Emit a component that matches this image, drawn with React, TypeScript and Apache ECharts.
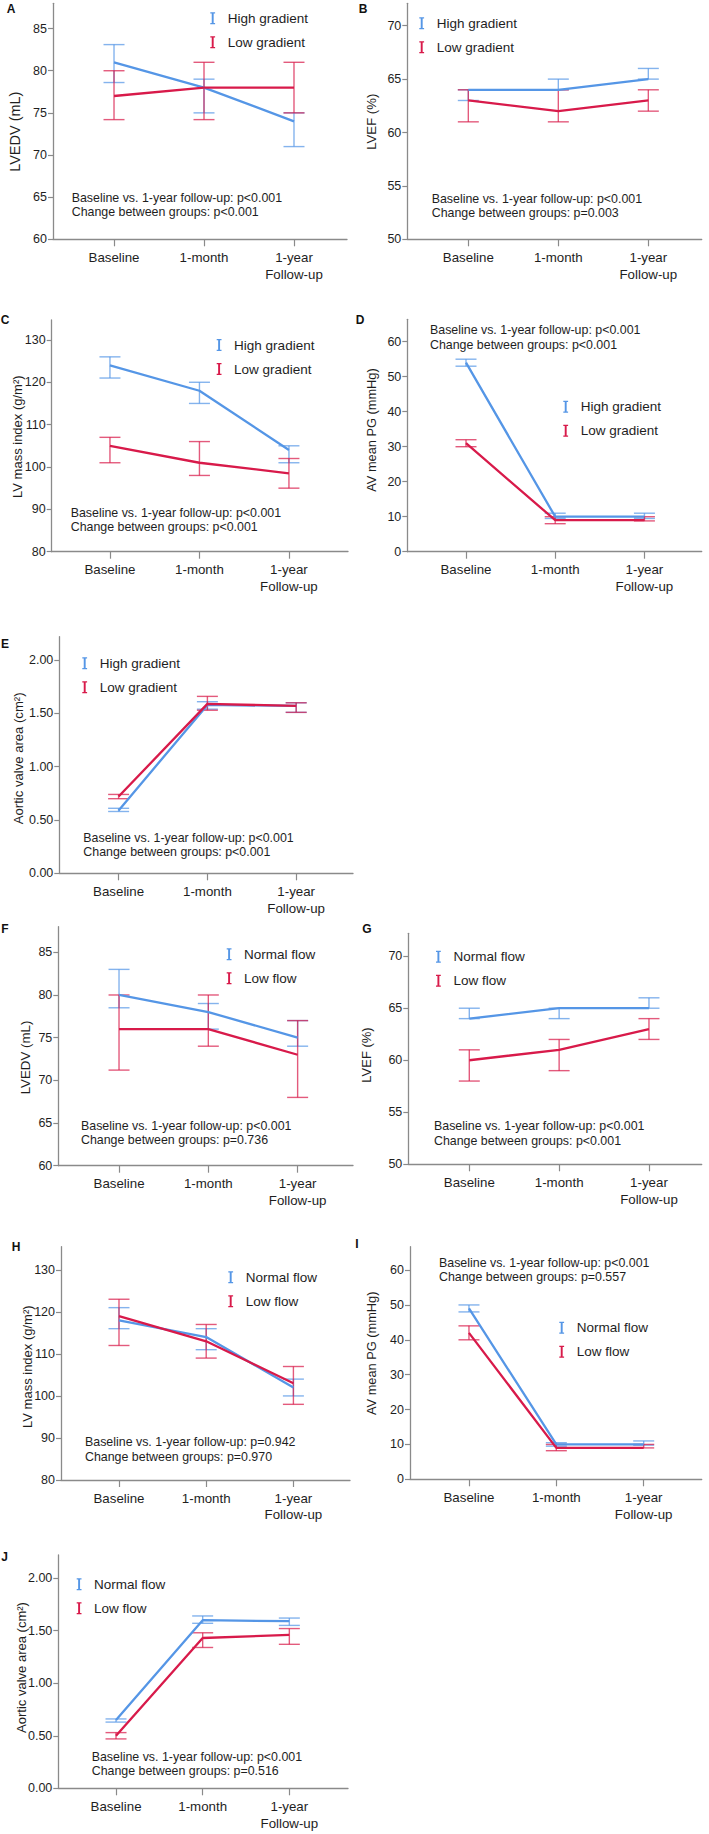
import React, { useEffect, useRef } from "react";
import * as echarts from "echarts";

// ---------- categories & tick labels ----------
const categories = ["Baseline", "1-month", "1-year\nFollow-up"];
const ticksLVEDV = [60, 65, 70, 75, 80, 85];
const ticksLVEF = [50, 55, 60, 65, 70];
const ticksMass = [80, 90, 100, 110, 120, 130];
const ticksPG = [0, 10, 20, 30, 40, 50, 60];
const ticksAVA = [0, 0.5, 1.0, 1.5, 2.0];

// ---------- group names ----------
const gradientNames = ["High gradient", "Low gradient"];
const flowNames = ["Normal flow", "Low flow"];

// ---------- data (mean, lower CI, upper CI) ----------
// A: LVEDV by gradient
const aHighMean = [81, 78, 74];
const aHighLo = [78.6, 75, 71];
const aHighHi = [83.1, 79, 75];
const aLowMean = [77, 78, 78];
const aLowLo = [74.2, 74.2, 75];
const aLowHi = [80, 81, 81];
// B: LVEF by gradient
const bHighMean = [64, 64, 65];
const bHighLo = [63, 64, 65];
const bHighHi = [64, 65, 66];
const bLowMean = [63, 62, 63];
const bLowLo = [61, 61, 62];
const bLowHi = [64, 64, 64];
// C: LV mass index by gradient
const cHighMean = [124, 118, 104];
const cHighLo = [121, 115, 101];
const cHighHi = [126, 120, 105];
const cLowMean = [105, 101, 98.5];
const cLowLo = [101, 98, 95];
const cLowHi = [107, 106, 102];
// D: AV mean PG by gradient
const dHighMean = [54, 10, 10];
const dHighLo = [53, 9.5, 9.5];
const dHighHi = [55, 11, 11];
const dLowMean = [31, 9, 9];
const dLowLo = [30, 8, 8.8];
const dLowHi = [32, 10, 10];
// E: Aortic valve area by gradient
const eHighMean = [0.59, 1.58, 1.57];
const eHighLo = [0.58, 1.54, 1.51];
const eHighHi = [0.61, 1.61, 1.6];
const eLowMean = [0.72, 1.59, 1.57];
const eLowLo = [0.7, 1.53, 1.51];
const eLowHi = [0.74, 1.66, 1.6];
// F: LVEDV by flow
const fNormMean = [80, 78, 75];
const fNormLo = [78.5, 76, 74];
const fNormHi = [83, 79, 77];
const fLowMean = [76, 76, 73];
const fLowLo = [71.2, 74, 68];
const fLowHi = [80, 80, 77];
// G: LVEF by flow
const gNormMean = [64, 65, 65];
const gNormLo = [64, 64, 65];
const gNormHi = [65, 65, 66];
const gLowMean = [60, 61, 63];
const gLowLo = [58, 59, 62];
const gLowHi = [61, 62, 64];
// H: LV mass index by flow
const hNormMean = [118, 114, 102];
const hNormLo = [116, 111, 100];
const hNormHi = [121, 116, 104];
const hLowMean = [119, 113, 103];
const hLowLo = [112, 109, 98];
const hLowHi = [123, 117, 107];
// I: AV mean PG by flow
const iNormMean = [49, 10, 10];
const iNormLo = [48, 9.5, 9.8];
const iNormHi = [50, 10.5, 11];
const iLowMean = [42, 9, 9];
const iLowLo = [40, 8.2, 9];
const iLowHi = [44, 10, 10];
// J: Aortic valve area by flow
const jNormMean = [0.65, 1.6, 1.59];
const jNormLo = [0.63, 1.57, 1.55];
const jNormHi = [0.66, 1.64, 1.62];
const jLowMean = [0.5, 1.43, 1.46];
const jLowLo = [0.47, 1.34, 1.37];
const jLowHi = [0.53, 1.48, 1.52];

// ---------- annotation texts ----------
const pBaseline = ["p<0.001", "p<0.001", "p<0.001", "p<0.001", "p<0.001", "p<0.001", "p<0.001", "p=0.942", "p<0.001", "p<0.001"];
const pGroups = ["p<0.001", "p=0.003", "p<0.001", "p<0.001", "p<0.001", "p=0.736", "p<0.001", "p=0.970", "p=0.557", "p=0.516"];
const letters = ["A", "B", "C", "D", "E", "F", "G", "H", "I", "J"];
const yTitles = [
  "LVEDV (mL)", "LVEF (%)", "LV mass index (g/m²)", "AV mean PG (mmHg)", "Aortic valve area (cm²)",
  "LVEDV (mL)", "LVEF (%)", "LV mass index (g/m²)", "AV mean PG (mmHg)", "Aortic valve area (cm²)",
];

const BLUE = "#5596e6";
const RED = "#d81a4a";
const AXIS = "#8a8a8a";
const TXT = "#1e1e1e";
const FONT = "'Liberation Sans', Arial, Helvetica, sans-serif";
const ICON = "path://M0,0H8V2.2H5.6V17.8H8V20H0V17.8H2.4V2.2H0Z";

type Panel = {
  axL: number; axR: number; top: number; bottom: number;
  xMin: number; xMax: number; yMin: number; yMax: number; ticks: number[]; dec: number;
  names: string[];
  g1: number[][]; g2: number[][];
  legend: [number, number]; note: [number, number, number]; title: [number, number, number]; letter: [number, number];
};

const panels: Panel[] = [
  { axL: 53, axR: 347, top: 3.3, bottom: 239.3, xMin: -0.678, xMax: 2.589, yMin: 60, yMax: 88, ticks: ticksLVEDV, dec: 0, names: gradientNames,
    g1: [aHighMean, aHighLo, aHighHi], g2: [aLowMean, aLowLo, aLowHi], legend: [210.3, 11.3], note: [71.7, 197.7, 212.3], title: [15, 131.7, 14.5], letter: [11, 8.5] },
  { axL: 407.3, axR: 701.7, top: 3.3, bottom: 239.3, xMin: -0.678, xMax: 2.593, yMin: 50, yMax: 72.1, ticks: ticksLVEF, dec: 0, names: gradientNames,
    g1: [bHighMean, bHighLo, bHighHi], g2: [bLowMean, bLowLo, bLowHi], legend: [419.3, 16.3], note: [431.7, 199, 213], title: [371.7, 121.7, 13.2], letter: [363, 8.5] },
  { axL: 51.7, axR: 348, top: 320, bottom: 551.7, xMin: -0.651, xMax: 2.66, yMin: 80, yMax: 134.7, ticks: ticksMass, dec: 0, names: gradientNames,
    g1: [cHighMean, cHighLo, cHighHi], g2: [cLowMean, cLowLo, cLowHi], legend: [216.7, 338], note: [70.7, 512.7, 526.7], title: [17.5, 436.7, 13], letter: [5, 320] },
  { axL: 407.3, axR: 701.7, top: 319.3, bottom: 551.7, xMin: -0.658, xMax: 2.642, yMin: 0, yMax: 66.4, ticks: ticksPG, dec: 0, names: gradientNames,
    g1: [dHighMean, dHighLo, dHighHi], g2: [dLowMean, dLowLo, dLowHi], legend: [563.3, 399.7], note: [430, 330, 344.5], title: [371.5, 430, 12.8], letter: [360, 320] },
  { axL: 59.3, axR: 353, top: 636.7, bottom: 873.3, xMin: -0.668, xMax: 2.64, yMin: 0, yMax: 2.22, ticks: ticksAVA, dec: 2, names: gradientNames,
    g1: [eHighMean, eHighLo, eHighHi], g2: [eLowMean, eLowLo, eLowHi], legend: [82.3, 656.3], note: [83.3, 838.3, 851.7], title: [18.3, 758.3, 13.1], letter: [5, 643.5] },
  { axL: 58.3, axR: 353, top: 926.7, bottom: 1165.7, xMin: -0.68, xMax: 2.62, yMin: 60, yMax: 88, ticks: ticksLVEDV, dec: 0, names: flowNames,
    g1: [fNormMean, fNormLo, fNormHi], g2: [fLowMean, fLowLo, fLowHi], legend: [226.7, 947.3], note: [81, 1126, 1140], title: [25, 1057.5, 13.3], letter: [5, 929] },
  { axL: 408.3, axR: 701.7, top: 933.3, bottom: 1164.3, xMin: -0.679, xMax: 2.587, yMin: 50, yMax: 72.2, ticks: ticksLVEF, dec: 0, names: flowNames,
    g1: [gNormMean, gNormLo, gNormHi], g2: [gLowMean, gLowLo, gLowHi], legend: [436, 949.7], note: [434, 1126, 1140.7], title: [366.7, 1055, 13], letter: [367, 929] },
  { axL: 61, axR: 350, top: 1246.7, bottom: 1480, xMin: -0.665, xMax: 2.649, yMin: 80, yMax: 135.5, ticks: ticksMass, dec: 0, names: flowNames,
    g1: [hNormMean, hNormLo, hNormHi], g2: [hLowMean, hLowLo, hLowHi], legend: [228.3, 1270.3], note: [85, 1441.7, 1456.7], title: [27.5, 1366.7, 13], letter: [16, 1247] },
  { axL: 410, axR: 701.7, top: 1246.7, bottom: 1479.3, xMin: -0.675, xMax: 2.664, yMin: 0, yMax: 66.7, ticks: ticksPG, dec: 0, names: flowNames,
    g1: [iNormMean, iNormLo, iNormHi], g2: [iLowMean, iLowLo, iLowHi], legend: [559.3, 1320.7], note: [439, 1263.3, 1277.3], title: [371.5, 1353.3, 12.8], letter: [357, 1244] },
  { axL: 58.3, axR: 348, top: 1555, bottom: 1788.3, xMin: -0.666, xMax: 2.677, yMin: 0, yMax: 2.22, ticks: ticksAVA, dec: 2, names: flowNames,
    g1: [jNormMean, jNormLo, jNormHi], g2: [jLowMean, jLowLo, jLowHi], legend: [76.7, 1577.3], note: [91.7, 1757.3, 1771], title: [21.7, 1667.5, 13], letter: [4.5, 1556.5] },
];

function errorBarSeries(name: string, color: string, idx: number, lo: number[], hi: number[]) {
  return {
    type: "custom",
    name,
    xAxisIndex: idx,
    yAxisIndex: idx,
    silent: true,
    z: 2,
    itemStyle: { color },
    encode: { x: 0, y: [1, 2] },
    data: lo.map((l, k) => [k, l, hi[k]]),
    renderItem: (params: any, api: any) => {
      const x = api.value(0);
      const pLo = api.coord([x, api.value(1)]);
      const pHi = api.coord([x, api.value(2)]);
      const w = 10.5;
      const style = { stroke: color, lineWidth: 1.4, opacity: 0.72 };
      return {
        type: "group",
        children: [
          { type: "line", shape: { x1: pLo[0], y1: pLo[1], x2: pHi[0], y2: pHi[1] }, style },
          { type: "line", shape: { x1: pLo[0] - w, y1: pLo[1], x2: pLo[0] + w, y2: pLo[1] }, style },
          { type: "line", shape: { x1: pHi[0] - w, y1: pHi[1], x2: pHi[0] + w, y2: pHi[1] }, style },
        ],
      };
    },
  };
}

function lineSeries(name: string, color: string, idx: number, mean: number[]) {
  return {
    type: "line",
    name,
    xAxisIndex: idx,
    yAxisIndex: idx,
    silent: true,
    z: 3,
    symbol: "none",
    itemStyle: { color },
    lineStyle: { color, width: 2.3 },
    data: mean.map((m, k) => [k, m]),
  };
}

function buildOption() {
  const grid: any[] = [];
  const xAxis: any[] = [];
  const yAxis: any[] = [];
  const series: any[] = [];
  const legend: any[] = [];
  const graphic: any[] = [];

  panels.forEach((p, i) => {
    grid.push({ left: p.axL, top: p.top, width: p.axR - p.axL, height: p.bottom - p.top, containLabel: false });
    xAxis.push({
      gridIndex: i,
      type: "value",
      min: p.xMin,
      max: p.xMax,
      position: "bottom",
      axisLine: { show: true, onZero: false, lineStyle: { color: AXIS, width: 1.3 } },
      axisTick: { show: true, length: 7, customValues: [0, 1, 2], lineStyle: { color: AXIS, width: 1.2 } },
      axisLabel: {
        customValues: [0, 1, 2],
        formatter: (v: number) => categories[Math.round(v)],
        margin: 10,
        fontSize: 13.3,
        lineHeight: 16.5,
        color: TXT,
        fontFamily: FONT,
      },
      splitLine: { show: false },
    });
    yAxis.push({
      gridIndex: i,
      type: "value",
      min: p.yMin,
      max: p.yMax,
      axisLine: { show: true, onZero: false, lineStyle: { color: AXIS, width: 1.3 } },
      axisTick: { show: true, length: 5, customValues: p.ticks, lineStyle: { color: AXIS, width: 1.2 } },
      axisLabel: {
        customValues: p.ticks,
        formatter: (v: number) => v.toFixed(p.dec),
        margin: 6,
        fontSize: 12.5,
        color: TXT,
        fontFamily: FONT,
      },
      splitLine: { show: false },
    });
    series.push(errorBarSeries(p.names[0], BLUE, i, p.g1[1], p.g1[2]));
    series.push(errorBarSeries(p.names[1], RED, i, p.g2[1], p.g2[2]));
    series.push(lineSeries(p.names[0], BLUE, i, p.g1[0]));
    series.push(lineSeries(p.names[1], RED, i, p.g2[0]));

    legend.push({
      orient: "vertical",
      left: p.legend[0],
      top: p.legend[1],
      padding: 0,
      itemWidth: 20,
      itemHeight: 12,
      itemGap: 10,
      selectedMode: false,
      icon: ICON,
      itemStyle: { borderWidth: 0 },
      data: p.names.map((n) => ({ name: n, icon: ICON })),
      textStyle: { fontSize: 13.5, color: TXT, fontFamily: FONT, lineHeight: 14 },
    });

    graphic.push({
      type: "text",
      x: p.note[0],
      y: p.note[1],
      silent: true,
      style: { text: "Baseline vs. 1-year follow-up: " + pBaseline[i], fontSize: 12.4, fontFamily: FONT, fill: TXT, align: "left", verticalAlign: "middle" },
    });
    graphic.push({
      type: "text",
      x: p.note[0],
      y: p.note[2],
      silent: true,
      style: { text: "Change between groups: " + pGroups[i], fontSize: 12.4, fontFamily: FONT, fill: TXT, align: "left", verticalAlign: "middle" },
    });
    graphic.push({
      type: "text",
      x: p.title[0],
      y: p.title[1],
      rotation: Math.PI / 2,
      silent: true,
      style: { text: yTitles[i], fontSize: p.title[2], fontFamily: FONT, fill: TXT, align: "center", verticalAlign: "middle" },
    });
    graphic.push({
      type: "text",
      x: p.letter[0],
      y: p.letter[1],
      silent: true,
      style: { text: letters[i], fontSize: 12, fontWeight: "bold", fontFamily: FONT, fill: "#111", align: "center", verticalAlign: "middle" },
    });
  });

  return {
    animation: false,
    backgroundColor: "#ffffff",
    grid,
    xAxis,
    yAxis,
    series,
    legend,
    graphic,
  };
}

export default function App() {
  const ref = useRef<HTMLDivElement>(null);
  useEffect(() => {
    if (!ref.current) return;
    const chart = echarts.init(ref.current, undefined, { renderer: "svg" });
    chart.setOption(buildOption() as any);
    return () => chart.dispose();
  }, []);
  return (
    <div
      ref={ref}
      style={{ position: "absolute", left: 0, top: 0, width: 709, height: 1834, background: "#fff" }}
    />
  );
}
